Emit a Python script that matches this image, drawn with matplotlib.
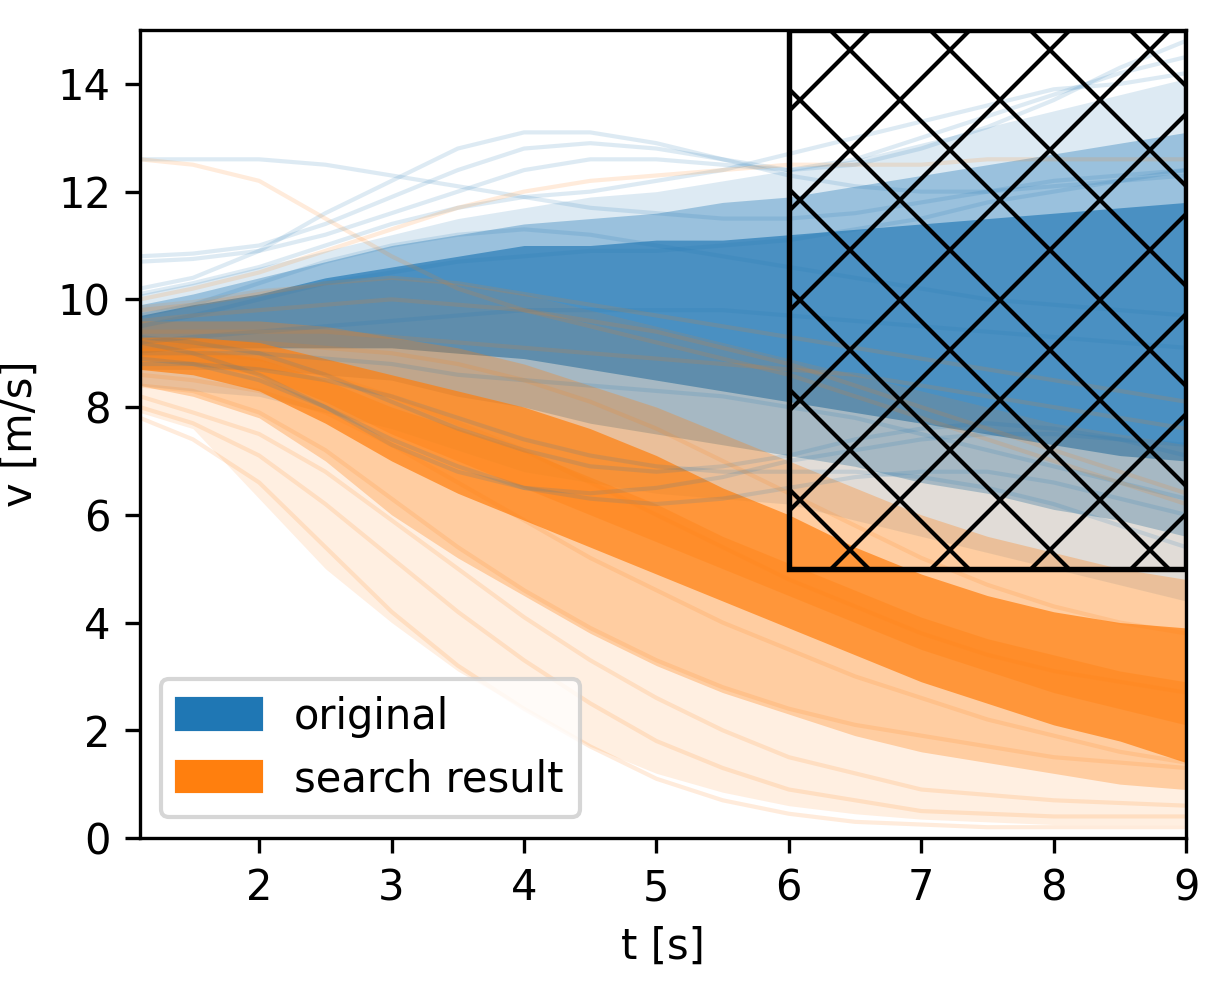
import matplotlib
matplotlib.use('Agg')
import matplotlib.pyplot as plt
from matplotlib.patches import Patch, Rectangle

# time grid the curves were read at
t = [1.1, 1.5, 2.0, 2.5, 3.0, 3.5, 4.0, 4.5, 5.0, 5.5, 6.0, 6.5, 7.0, 7.5, 8.0, 8.5, 9.0]

# "original" runs: spread of the bundle (percentiles)
orig_p02 = [8.4, 8.3, 8.2, 7.9, 7.6, 7.2, 6.8, 6.6, 6.4, 6.3, 6.2, 5.9, 5.6, 5.3, 5.0, 4.7, 4.4]
orig_p10 = [8.7, 8.7, 8.7, 8.6, 8.5, 8.2, 8.0, 7.7, 7.5, 7.3, 7.1, 6.9, 6.6, 6.4, 6.1, 5.9, 5.6]
orig_p25 = [9.0, 9.1, 9.1, 9.1, 9.1, 9.0, 8.9, 8.7, 8.5, 8.3, 8.1, 7.9, 7.7, 7.5, 7.3, 7.1, 7.0]
orig_p75 = [9.7, 9.9, 10.1, 10.4, 10.6, 10.8, 11.0, 11.0, 11.1, 11.1, 11.2, 11.3, 11.4, 11.5, 11.6, 11.7, 11.8]
orig_p90 = [9.9, 10.1, 10.4, 10.7, 11.0, 11.2, 11.4, 11.5, 11.6, 11.8, 11.9, 12.1, 12.3, 12.5, 12.7, 12.9, 13.1]
orig_p98 = [10.1, 10.3, 10.6, 10.9, 11.2, 11.5, 11.7, 11.9, 12.0, 12.2, 12.4, 12.6, 12.9, 13.2, 13.5, 13.8, 14.1]

# single "original" runs
orig_runs = [
    [12.6, 12.6, 12.6, 12.5, 12.3, 12.1, 11.9, 11.7, 11.6, 11.5, 11.5, 11.6, 11.8, 12.0, 12.2, 12.3, 12.4],
    [10.2, 10.4, 10.9, 11.6, 12.2, 12.8, 13.1, 13.1, 12.9, 12.6, 12.4, 12.5, 12.8, 13.2, 13.7, 14.3, 14.8],
    [10.8, 10.85, 11.0, 11.4, 11.9, 12.4, 12.8, 12.9, 12.8, 12.6, 12.3, 12.1, 12.0, 12.0, 12.1, 12.2, 12.3],
    [10.7, 10.75, 10.9, 11.2, 11.6, 12.0, 12.4, 12.6, 12.6, 12.5, 12.4, 12.6, 13.0, 13.4, 13.8, 14.2, 14.5],
    [10.1, 10.3, 10.6, 11.0, 11.4, 11.7, 11.9, 12.0, 12.2, 12.4, 12.7, 13.0, 13.3, 13.6, 13.9, 14.0, 14.2],
    [9.2, 9.0, 8.6, 8.0, 7.3, 6.8, 6.5, 6.4, 6.5, 6.7, 7.0, 7.2, 7.4, 7.5, 7.5, 7.4, 7.3],
    [9.3, 9.2, 9.0, 8.6, 8.1, 7.6, 7.2, 6.9, 6.8, 6.9, 7.1, 7.4, 7.6, 7.7, 7.6, 7.4, 7.1],
    [8.9, 8.8, 8.5, 8.0, 7.4, 6.9, 6.5, 6.3, 6.2, 6.3, 6.5, 6.7, 6.8, 6.8, 6.6, 6.3, 6.0],
    [9.5, 9.7, 10.0, 10.3, 10.5, 10.7, 10.8, 10.9, 10.9, 11.0, 11.1, 11.3, 11.5, 11.8, 12.0, 12.2, 12.4],
    [9.2, 9.3, 9.4, 9.5, 9.6, 9.7, 9.8, 9.8, 9.8, 9.8, 9.7, 9.6, 9.5, 9.4, 9.3, 9.2, 9.1],
    [9.0, 9.0, 9.0, 8.9, 8.8, 8.6, 8.5, 8.4, 8.3, 8.2, 8.0, 7.8, 7.5, 7.2, 6.9, 6.6, 6.3],
    [9.7, 9.9, 10.3, 10.7, 11.0, 11.2, 11.3, 11.2, 11.0, 10.8, 10.6, 10.4, 10.2, 10.0, 9.9, 9.8, 9.7],
    [8.8, 8.8, 8.7, 8.5, 8.2, 7.8, 7.4, 7.1, 6.9, 6.8, 6.8, 6.8, 6.7, 6.5, 6.2, 5.8, 5.4],
]

# "search result" runs
search_p02 = [7.9, 7.6, 6.3, 5.0, 4.0, 3.1, 2.4, 1.7, 1.2, 0.85, 0.6, 0.45, 0.35, 0.3, 0.25, 0.25, 0.25]
search_p10 = [8.4, 8.2, 7.8, 7.0, 6.0, 5.2, 4.5, 3.8, 3.2, 2.7, 2.3, 1.9, 1.6, 1.4, 1.2, 1.0, 0.9]
search_p25 = [8.7, 8.6, 8.3, 7.7, 7.0, 6.4, 5.9, 5.4, 4.9, 4.4, 3.9, 3.4, 2.9, 2.5, 2.1, 1.8, 1.4]
search_p40 = [8.9, 8.8, 8.6, 8.1, 7.5, 7.0, 6.5, 6.0, 5.5, 5.0, 4.5, 4.0, 3.5, 3.1, 2.7, 2.4, 2.1]
search_p60 = [9.1, 9.1, 8.9, 8.5, 8.0, 7.6, 7.2, 6.7, 6.2, 5.6, 5.1, 4.6, 4.1, 3.7, 3.4, 3.1, 2.9]
search_p75 = [9.3, 9.3, 9.2, 8.9, 8.6, 8.3, 8.0, 7.6, 7.1, 6.5, 6.0, 5.4, 4.9, 4.5, 4.2, 4.0, 3.9]
search_p90 = [9.6, 9.6, 9.6, 9.5, 9.3, 9.1, 8.8, 8.4, 8.0, 7.5, 7.0, 6.5, 6.0, 5.6, 5.3, 5.0, 4.8]
search_p98 = [9.9, 10.0, 10.2, 10.3, 10.4, 10.3, 10.1, 9.8, 9.5, 9.2, 8.9, 8.6, 8.3, 8.0, 7.7, 7.5, 7.3]

search_runs = [
    [12.6, 12.5, 12.2, 11.5, 10.8, 10.2, 9.8, 9.5, 9.2, 8.9, 8.6, 8.2, 7.8, 7.4, 7.0, 6.6, 6.2],
    [10.0, 10.2, 10.5, 10.9, 11.3, 11.7, 12.0, 12.2, 12.3, 12.4, 12.5, 12.5, 12.5, 12.6, 12.6, 12.6, 12.6],
    [7.8, 7.4, 6.6, 5.4, 4.2, 3.2, 2.4, 1.7, 1.1, 0.7, 0.45, 0.3, 0.25, 0.2, 0.2, 0.2, 0.2],
    [8.0, 7.7, 7.1, 6.2, 5.2, 4.2, 3.3, 2.5, 1.8, 1.3, 0.9, 0.7, 0.5, 0.45, 0.4, 0.4, 0.4],
    [8.2, 7.9, 7.5, 6.8, 5.9, 5.0, 4.1, 3.3, 2.6, 2.0, 1.5, 1.2, 0.9, 0.8, 0.7, 0.65, 0.6],
    [9.4, 9.4, 9.4, 9.4, 9.3, 9.2, 9.1, 9.0, 8.9, 8.8, 8.7, 8.6, 8.4, 8.2, 8.0, 7.8, 7.6],
    [9.0, 9.0, 8.9, 8.6, 8.2, 7.7, 7.2, 6.6, 6.0, 5.4, 4.8, 4.3, 3.8, 3.4, 3.1, 2.9, 2.7],
    [8.6, 8.5, 8.3, 7.9, 7.3, 6.6, 5.9, 5.2, 4.6, 4.0, 3.5, 3.0, 2.6, 2.2, 1.9, 1.6, 1.4],
    [9.2, 9.2, 9.2, 9.1, 9.0, 8.8, 8.5, 8.1, 7.6, 7.0, 6.4, 5.8, 5.2, 4.7, 4.3, 4.0, 3.8],
    [8.4, 8.3, 7.9, 7.2, 6.3, 5.4, 4.6, 3.9, 3.3, 2.8, 2.4, 2.1, 1.9, 1.7, 1.5, 1.4, 1.3],
    [9.6, 9.7, 9.8, 9.9, 10.0, 9.9, 9.8, 9.6, 9.4, 9.1, 8.8, 8.4, 8.0, 7.6, 7.2, 6.8, 6.4],
    [9.8, 9.9, 10.1, 10.3, 10.4, 10.3, 10.1, 9.9, 9.7, 9.5, 9.3, 9.1, 8.9, 8.7, 8.5, 8.3, 8.1],
]

# region that was searched
box_t = (6, 9)
box_v = (5, 15)

blue = '#1f77b4'
orange = '#ff7f0e'

fig = plt.figure(figsize=(1229 / 300, 995 / 300), dpi=300)
ax = fig.add_axes([0.1139, 0.1578, 0.8512, 0.812])

# blue bundle: nested percentile bands
ax.fill_between(t, orig_p02, orig_p98, color=blue, alpha=0.15, linewidth=0)
ax.fill_between(t, orig_p10, orig_p90, color=blue, alpha=0.35, linewidth=0)
ax.fill_between(t, orig_p25, orig_p75, color=blue, alpha=0.65, linewidth=0)

# orange bundle on top
ax.fill_between(t, search_p02, search_p98, color=orange, alpha=0.12, linewidth=0)
ax.fill_between(t, search_p10, search_p90, color=orange, alpha=0.3, linewidth=0)
ax.fill_between(t, search_p25, search_p75, color=orange, alpha=0.7, linewidth=0)
ax.fill_between(t, search_p40, search_p60, color=orange, alpha=0.35, linewidth=0)

# single runs over both bundles
for run in orig_runs:
    ax.plot(t, run, color=blue, alpha=0.15, linewidth=1.0)
for run in search_runs:
    ax.plot(t, run, color=orange, alpha=0.15, linewidth=1.0)

ax.add_patch(Rectangle((box_t[0], box_v[0]), box_t[1] - box_t[0], box_v[1] - box_v[0],
                       fill=False, hatch='x', edgecolor='black', linewidth=1.3, zorder=5))

ax.set_xlim(1.1, 9)
ax.set_ylim(0, 15)
ax.set_xticks([2, 3, 4, 5, 6, 7, 8, 9])
ax.set_yticks([0, 2, 4, 6, 8, 10, 12, 14])
ax.set_xlabel('t [s]')
ax.set_ylabel('v [m/s]')

handles = [Patch(color=blue, label='original'), Patch(color=orange, label='search result')]
ax.legend(handles=handles, loc='lower left')

fig.savefig('out.png', dpi=300)
